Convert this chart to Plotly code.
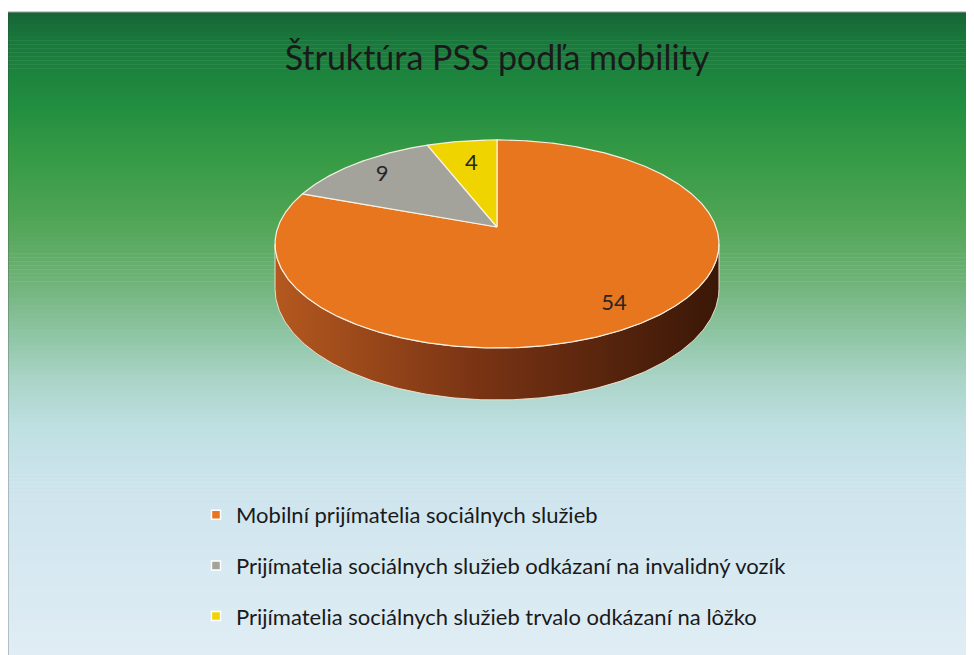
import numpy as np
import plotly.graph_objects as go

# ---- data ----
title_text = "Štruktúra PSS podľa mobility"
categories = [
    "Mobilní prijímatelia sociálnych služieb",
    "Prijímatelia sociálnych služieb odkázaní na invalidný vozík",
    "Prijímatelia sociálnych služieb trvalo odkázaní na lôžko",
]
values = [54, 9, 4]

# ---- style ----
slice_colors = ["#E8761F", "#A3A39B", "#F0D400"]
wall_scales = [
    [[0, "#B4581F"], [0.45, "#7A3414"], [1, "#3A1707"]],
    [[0, "#8A8A84"], [1, "#4A4A46"]],
    [[0, "#C8B000"], [1, "#6A5C00"]],
]
label_radius = [0.83, 0.8, 0.7]
FONT = "Lato"

# page geometry (the html body adds an 8px offset)
PW, PH, OFF = 974, 655, 8
W, H = PW - OFF, PH - OFF
# 3-D disk projection (page pixels)
cx, cy, rx, ry, persp, depth = 497, 227, 219, 101.3, 0.163, 43.5

bg_stops = [
    (12, (24, 100, 55)), (40, (25, 120, 60)), (100, (32, 140, 64)),
    (160, (55, 155, 70)), (220, (80, 165, 85)), (280, (110, 178, 120)),
    (330, (140, 195, 160)), (380, (170, 212, 200)), (430, (192, 224, 226)),
    (500, (207, 229, 238)), (655, (224, 237, 244)),
]


def interp_color(y):
    for (y0, c0), (y1, c1) in zip(bg_stops[:-1], bg_stops[1:]):
        if y0 <= y <= y1:
            t = (y - y0) / (y1 - y0)
            c = [round(a + (b - a) * t) for a, b in zip(c0, c1)]
            return f"rgb({c[0]},{c[1]},{c[2]})"
    c = bg_stops[-1][1]
    return f"rgb({c[0]},{c[1]},{c[2]})"


def disk(a_deg, r=1.0):
    """Project a point of the pie disk (angle clockwise from 12 o'clock)."""
    a = np.radians(a_deg)
    u, v = r * np.sin(a), r * np.cos(a)
    d = 1 + persp * v
    return cx + rx * u / d, cy - ry * v / d, depth / d


fig = go.Figure()

total = sum(values)
spans = []
start = 0.0
for v in values:
    end = start + v / total * 360.0
    spans.append((start, end))
    start = end

# visible side wall range (silhouette of the cylinder)
a_lo = np.degrees(np.arccos(-persp))
a_hi = 360 - a_lo

for i, (a0, a1) in enumerate(spans):
    lo, hi = max(a0, a_lo), min(a1, a_hi)
    if hi <= lo:
        continue
    t = np.linspace(lo, hi, 200)
    xt, yt, dd = disk(t)
    xs = np.concatenate([xt, xt[::-1], xt[:1]])
    ys = np.concatenate([yt, (yt + dd)[::-1], yt[:1]])
    fig.add_trace(go.Scatter(
        x=xs, y=ys, mode="lines", fill="toself",
        line=dict(color="rgba(245,230,210,0.9)", width=1),
        fillgradient=dict(type="horizontal", colorscale=wall_scales[i]),
        showlegend=False, hoverinfo="skip"))

# top faces
for i, (a0, a1) in enumerate(spans):
    t = np.linspace(a0, a1, max(8, int((a1 - a0) * 2)))
    xt, yt, _ = disk(t)
    xs = np.concatenate([[cx], xt, [cx]])
    ys = np.concatenate([[cy], yt, [cy]])
    fig.add_trace(go.Scatter(
        x=xs, y=ys, mode="lines", fill="toself", fillcolor=slice_colors[i],
        line=dict(color="rgba(250,245,235,0.95)", width=1.2),
        showlegend=False, hoverinfo="skip"))

# data labels
lx, ly = [], []
for (a0, a1), r in zip(spans, label_radius):
    x, y, _ = disk((a0 + a1) / 2, r)
    lx.append(x)
    ly.append(y)
fig.add_trace(go.Scatter(
    x=lx, y=ly, mode="text", text=[str(v) for v in values],
    textfont=dict(family=FONT, size=22, color="#262626"),
    showlegend=False, hoverinfo="skip"))

# legend entries
for i, cat in enumerate(categories):
    fig.add_trace(go.Scatter(
        x=[None], y=[None], mode="markers", name=cat, legendgroup=f"g{i}",
        marker=dict(symbol="square", size=9, color=slice_colors[i],
                    line=dict(color="white", width=1.5))))

# background gradient bands
shapes = []
n = 160
y_top, y_bot = 12, PH
for k in range(n):
    y0 = y_top + (y_bot - y_top) * k / n
    y1 = y_top + (y_bot - y_top) * (k + 1) / n + 0.6
    shapes.append(dict(type="rect", xref="x", yref="y", x0=7, x1=PW, y0=y0, y1=y1,
                       fillcolor=interp_color((y0 + y1) / 2), line=dict(width=0),
                       layer="below"))
shapes.append(dict(type="line", xref="x", yref="y", x0=7.5, x1=7.5, y0=12, y1=PH,
                   line=dict(color="#3a3a3a", width=1.5), layer="below"))
shapes.append(dict(type="line", xref="x", yref="y", x0=7, x1=PW, y0=12, y1=12,
                   line=dict(color="#9a9a9a", width=1), layer="below"))


def py(page_y):
    return 1 - (page_y - OFF) / H


def px(page_x):
    return (page_x - OFF) / W


fig.update_layout(
    width=W, height=H,
    margin=dict(l=0, r=0, t=0, b=0),
    paper_bgcolor="white", plot_bgcolor="rgba(0,0,0,0)",
    xaxis=dict(range=[OFF, PW], visible=False, fixedrange=True),
    yaxis=dict(range=[PH, OFF], visible=False, fixedrange=True),
    shapes=shapes,
    title=dict(text=title_text, x=px(497), xanchor="center", y=py(58),
               yanchor="middle", font=dict(family=FONT, size=34, color="#1a1a1a")),
    legend=dict(orientation="v", x=px(196), xanchor="left", y=py(494),
                yanchor="top", font=dict(family=FONT, size=22, color="#1a1a1a"),
                bgcolor="rgba(0,0,0,0)", itemwidth=30, tracegroupgap=19,
                traceorder="grouped"),
    showlegend=True,
)

fig.write_html("out.html")
